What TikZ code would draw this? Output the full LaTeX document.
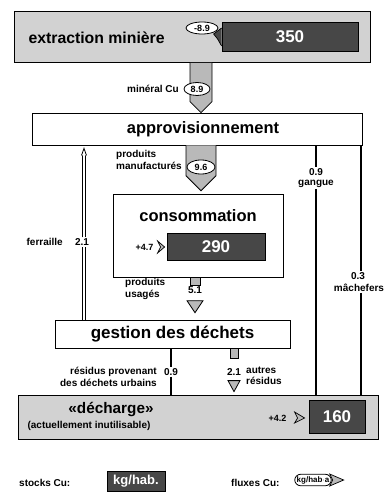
\documentclass[tikz,border=0pt]{standalone}
\usepackage{fontspec}
\setmainfont{Liberation Sans}
\usetikzlibrary{shapes.geometric,calc}
\begin{document}
\begin{tikzpicture}[x=1pt,y=-1pt,
  box/.style={draw, line width=0.8pt, rectangle, inner sep=0},
  graybox/.style={box, fill=gray!35},
  stock/.style={draw=black, line width=0.8pt, fill=black!72, text=white, font=\bfseries\fontsize{17}{17}\selectfont, inner sep=0},
  oval/.style={ellipse, draw, fill=white, line width=0.8pt, inner sep=0.5pt, font=\bfseries\fontsize{9}{9}\selectfont},
  lbl/.style={font=\bfseries\fontsize{10}{11.5}\selectfont, inner sep=1pt},
  ttl/.style={font=\bfseries\fontsize{16.5}{18}\selectfont},
  flowfill/.style={draw, line width=0.8pt, fill=gray!55},
  fatarrow/.style={to path={($(\tikztostart)+(-#1,0)$) -- ($(\tikztotarget)+(-#1,-#1)$) -- (\tikztotarget) -- ($(\tikztotarget)+(#1,-#1)$) -- ($(\tikztostart)+(#1,0)$)}},
  thinflow/.style={line width=1.5pt},
  chev/.style={draw, line width=0.7pt, fill=gray!55},
]
\useasboundingbox (0,0) rectangle (385,492);

% ---- extraction miniere
\node[graybox, minimum width=356, minimum height=51] (extr) at (192,37) {};
\node[ttl, font=\bfseries\fontsize{15.8}{18}\selectfont, anchor=west] (extrt) at (25,38) {extraction minière};
\node[stock, minimum width=136, minimum height=29] (s350) at (290,37) {350};
\node[oval, minimum width=32, minimum height=12] (o1) at (202,28) {-8.9};
\draw[chev, fill=black!72] ($(s350.west)+(0,-9)$) -- ($(s350.west)+(-8,-3)$) -- ($(s350.west)+(-4,2)$) -- ($(s350.west)+(0,9)$);

% ---- approvisionnement
\node[box, fill=white, minimum width=330, minimum height=32] (appr) at (197,129) {};
\node[ttl] (apprt) at (203,129) {approvisionnement};

\coordinate (x1) at (201,0);
\draw[flowfill, fatarrow=11] (extr.south -| x1) to (appr.north -| x1);
\node[oval, minimum width=26, minimum height=13] (o2) at (197,89) {8.9};
\node[lbl, anchor=east] (l1) at (180,89) {minéral Cu};

% ---- consommation
\node[box, line width=0.6pt, minimum width=170, minimum height=83] (cons) at (198,235.5) {};
\node[ttl] (const) at (198,216) {consommation};
\node[stock, minimum width=98, minimum height=27] (s290) at (216,247) {290};
\node[font=\bfseries\fontsize{9}{9}\selectfont, anchor=east] (o3) at (157,247) {+4.7};
\draw[chev] ($(s290.west)+(-9,-6)$) -- ($(s290.west)+(-2,0)$) -- ($(s290.west)+(-9,6)$) -- ($(s290.west)+(-6,0)$) -- cycle;

\coordinate (x2) at (201,0);
\draw[flowfill, fatarrow=15] (appr.south -| x2) to ($(cons.north -| x2)+(0,-3)$);
\node[oval, minimum width=28, minimum height=14] (o4) at (201,167) {9.6};
\node[lbl, anchor=east, align=left] (l2) at (183,160) {produits\\manufacturés};

% ---- gestion des dechets
\node[box, line width=0.6pt, fill=white, minimum width=235, minimum height=28] (gest) at (172.5,334) {};
\node[ttl, font=\bfseries\fontsize{17}{19}\selectfont] (gestt) at (gest.center) {gestion des déchets};

% produits usages
\coordinate (x3) at (195,0);
\node[lbl] (n51) at (195,290) {5.1};
\draw[flowfill] ($(cons.south -| x3)+(-5,0)$) rectangle ($(cons.south -| x3)+(5,8)$);
\draw[flowfill] ($(gest.north -| x3)+(-8,-19)$) -- ($(gest.north -| x3)+(0,-7)$) -- ($(gest.north -| x3)+(8,-19)$) -- cycle;
\node[lbl, anchor=west, align=left] (l3) at (124,289) {produits\\usagés};

% ferraille
\coordinate (x4) at (84,0);
\node[lbl] (n21a) at (82,242) {2.1};
\node[lbl, anchor=east] (l4) at (64,242) {ferraille};
\draw[line width=3.4pt] (gest.north -| x4) -- (n21a.south -| x4);
\draw[line width=1.8pt, white] (gest.north -| x4) -- (n21a.south -| x4);
\draw[line width=3.4pt] (n21a.north -| x4) -- ($(appr.south -| x4)+(0,10)$);
\draw[line width=1.8pt, white] (n21a.north -| x4) -- ($(appr.south -| x4)+(0,10)$);
\draw[line width=0.8pt, fill=white] ($(appr.south -| x4)+(-2.5,10)$) -- ($(appr.south -| x4)+(0,3)$) -- ($(appr.south -| x4)+(2.5,10)$);

% ---- decharge
\node[graybox, minimum width=360, minimum height=44] (dech) at (198,417) {};
\node[ttl, font=\bfseries\fontsize{15.3}{17}\selectfont] (decht) at (111,410) {«décharge»};
\node[lbl, font=\bfseries\fontsize{10}{11}\selectfont] (decht2) at (89,426) {(actuellement inutilisable)};
\node[stock, minimum width=56, minimum height=33] (s160) at (337,417) {160};
\node[font=\bfseries\fontsize{9}{9}\selectfont, anchor=east] (o5) at (290,418) {+4.2};
\draw[chev] ($(s160.west)+(-14,-5)$) -- ($(s160.west)+(-4,1)$) -- ($(s160.west)+(-14,6)$) -- ($(s160.west)+(-11,1)$) -- cycle;

% gangue
\coordinate (x5) at (316,0);
\node[lbl] (n09a) at (316,172) {0.9};
\node[lbl] (lg) at (316,184) {gangue};
\draw[thinflow] (appr.south -| x5) -- (n09a.north);
\draw[thinflow] (lg.south) -- (dech.north -| x5);

% machefers
\coordinate (x6) at (361,0);
\node[lbl] (n03) at (358,276) {0.3};
\node[lbl] (lm) at (359,288) {mâchefers};
\draw[thinflow] (appr.south -| x6) -- (n03.north -| x6);
\draw[thinflow] (lm.south -| x6) -- (dech.north -| x6);

% residus urbains
\coordinate (x7) at (171,0);
\node[lbl] (n09b) at (171,372) {0.9};
\draw[thinflow] (gest.south -| x7) -- (n09b.north);
\draw[thinflow] (n09b.south) -- (dech.north -| x7);
\node[lbl, anchor=east, align=right] (l7) at (158,377) {résidus provenant\\des déchets urbains};

% autres residus
\coordinate (x8) at (234,0);
\node[lbl] (n21b) at (234,372) {2.1};
\draw[flowfill] ($(gest.south -| x8)+(-4,0)$) rectangle ($(gest.south -| x8)+(4,10)$);
\draw[flowfill] ($(dech.north -| x8)+(-6,-14)$) -- ($(dech.north -| x8)+(0,-3)$) -- ($(dech.north -| x8)+(6,-14)$) -- cycle;
\node[lbl, anchor=west, align=left] (l8) at (245,376) {autres\\résidus};

% ---- legend
\node[lbl, anchor=west] (lg1) at (18,483) {stocks Cu:};
\node[stock, font=\bfseries\fontsize{13}{13}\selectfont, minimum width=58, minimum height=20] (lgs) at (136,481) {kg/hab.};
\node[lbl, anchor=west] (lg2) at (230,483) {fluxes Cu:};
\node[draw, line width=0.8pt, rounded corners=6pt, fill=white, inner sep=2pt, font=\bfseries\fontsize{8}{9}\selectfont] (lgf) at (313,480) {kg/hab$\cdot$a};
\draw[chev] ($(lgf.east)+(-2,-6)$) -- ($(lgf.east)+(12,0)$) -- ($(lgf.east)+(-2,6)$) -- ($(lgf.east)+(1,0)$) -- cycle;
\end{tikzpicture}
\end{document}
